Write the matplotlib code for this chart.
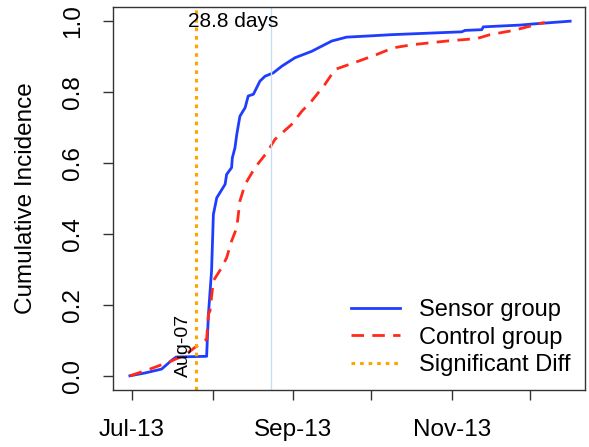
import numpy as np
import matplotlib.pyplot as plt
from matplotlib.lines import Line2D

plt.rcParams['font.family'] = ['Liberation Sans', 'DejaVu Sans']

# days since 1 Jul 2013
sensor_days = [-0.8, 5, 11.4, 15.3, 17, 28.7, 29.4, 30.6, 31.3, 32.6, 35.8, 36.4, 38.3,
               38.6, 39.6, 40.3, 41.5, 43.5, 44.7, 46.7, 49.2, 51.2, 54.3, 57.6, 62.7,
               69.1, 76.8, 82.5, 90.2, 99.9, 126.8, 128.1, 134.5, 135.1, 149.2, 155.7,
               168.5]
sensor_ci = [0.0, 0.008, 0.019, 0.044, 0.053, 0.055, 0.174, 0.296, 0.455, 0.502, 0.54,
             0.568, 0.587, 0.615, 0.643, 0.681, 0.732, 0.756, 0.789, 0.794, 0.831, 0.845,
             0.854, 0.873, 0.897, 0.915, 0.944, 0.955, 0.958, 0.962, 0.97, 0.974, 0.976,
             0.984, 0.989, 0.993, 1.0]

control_days = [-0.8, 6.9, 14.6, 20.4, 24.2, 28.7, 29.4, 30.0, 31.3, 34.5, 36.4, 38.3,
                40.3, 41.5, 43.5, 47.3, 51.8, 55.0, 61.4, 65.3, 69.1, 74.2, 78.1, 87.0,
                94.1, 100.5, 108.2, 121.0, 132.6, 137.7, 146.7, 153.1, 155.7, 158.8]
control_ci = [0.0, 0.019, 0.04, 0.059, 0.08, 0.103, 0.174, 0.183, 0.268, 0.305, 0.333,
              0.38, 0.418, 0.493, 0.54, 0.587, 0.629, 0.667, 0.709, 0.746, 0.775, 0.822,
              0.864, 0.887, 0.906, 0.925, 0.934, 0.944, 0.951, 0.962, 0.974, 0.986,
              0.993, 0.996]

sig_day = 24.5
diff_days = 28.8

tick_days = [0, 31, 62, 92, 123, 153]
tick_labels = ['Jul-13', '', 'Sep-13', '', 'Nov-13', '']

blue = '#1f3dff'
red = '#ff2a1a'
orange = '#ffa500'
red_ls = (0, (4.5, 3))
orange_ls = (0, (1.2, 1.6))

fig = plt.figure(figsize=(5.89, 4.47), dpi=100)
ax = fig.add_axes([113/589, 57/447, 472/589, 383/447])

ax.plot(sensor_days, sensor_ci, color=blue, lw=2.0)
ax.plot(control_days, control_ci, color=red, lw=2.0, linestyle=red_ls)
ax.axvline(sig_day, color=orange, lw=2.2, linestyle=orange_ls)
ax.axvline(sig_day + diff_days, color='#c4def0', lw=0.9)

ax.text(sig_day + diff_days / 2, 1.0, '%.1f days' % diff_days, ha='center',
        va='center', fontsize=15)
ax.text(sig_day - 1.5, 0.085, 'Aug-07', rotation=90, ha='right', va='center',
        fontsize=14)

ax.set_xlim(-7.3, 174.2)
ax.set_ylim(-0.04, 1.04)
ax.set_xticks(tick_days)
ax.set_xticklabels(tick_labels)
ax.set_yticks([0, 0.2, 0.4, 0.6, 0.8, 1.0])
ax.set_yticklabels(['0.0', '0.2', '0.4', '0.6', '0.8', '1.0'], rotation=90, va='center')
ax.tick_params(labelsize=17.5, length=7, width=1, pad=14, color='#333333')
ax.set_ylabel('Cumulative Incidence', fontsize=17.5, labelpad=18)
for s in ax.spines.values():
    s.set_linewidth(1.0)
    s.set_color('#333333')

handles = [Line2D([], [], color=blue, lw=2.0),
           Line2D([], [], color=red, lw=2.0, linestyle=red_ls),
           Line2D([], [], color=orange, lw=2.2, linestyle=orange_ls)]
ax.legend(handles, ['Sensor group', 'Control group', 'Significant Diff'],
          loc='lower right', frameon=False, fontsize=17, handlelength=2.1,
          labelspacing=0.22, borderaxespad=0.2, handletextpad=0.8)

fig.savefig('out.png', dpi=100)
